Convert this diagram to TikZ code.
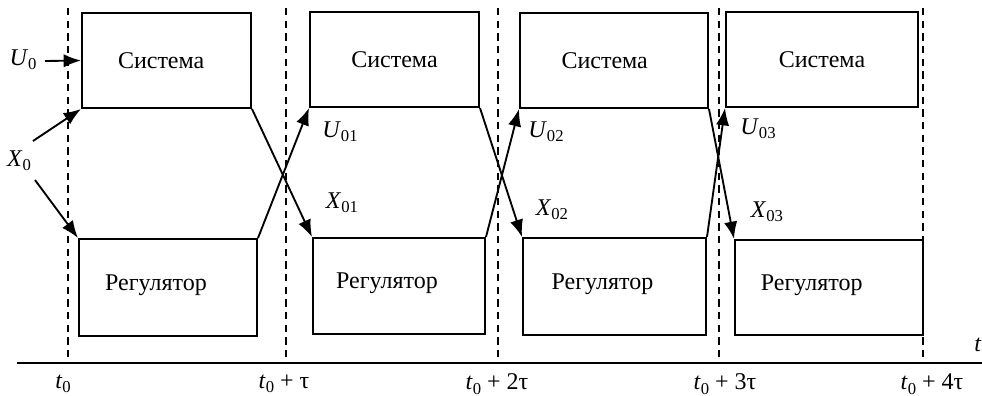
\documentclass[tikz,border=0pt]{standalone}
\usepackage{fontspec}
\setmainfont{Liberation Serif}
\usetikzlibrary{arrows.meta,fit}
\newcommand{\idx}[1]{\raisebox{-0.4ex}{\fontsize{12.5}{14}\selectfont #1}}
\tikzset{
  blockbox/.style={draw, line width=1.5pt, inner sep=0pt},
  flow/.style={line width=1.4pt, -{Latex[length=13pt,width=10pt]}},
  tline/.style={line width=1.4pt, dash pattern=on 5.5pt off 4pt},
}
\begin{document}
\begin{tikzpicture}[x=0.75pt,y=-0.75pt,font=\fontsize{18}{20}\selectfont]
\useasboundingbox (0,0) rectangle (982,396);
% time axis and moments
\coordinate (ax0) at (17,363);
\coordinate (ax1) at (982,363);
\draw[line width=1.5pt] (ax0) -- (ax1);
\node (tt) at (978,345) {\textit{t}};
\foreach \x/\n in {68/0,286/1,498/2,719/3,923/4}{
  \coordinate (top\n) at (\x,8);
  \coordinate (bot\n) at (\x,362);
  \draw[tline] (top\n) -- (bot\n);
}
\node (tl0) at (63,384) {\textit{t}\idx{0}};
\node (tl1) at (284,384) {\textit{t}\idx{0} + τ};
\node (tl2) at (497,384) {\textit{t}\idx{0} + 2τ};
\node (tl3) at (725,384) {\textit{t}\idx{0} + 3τ};
\node (tl4) at (932,384) {\textit{t}\idx{0} + 4τ};
% blocks
\node[blockbox, fit={(82,13) (251,108)}, label={[xshift=-4pt]center:Система}] (s1) {};
\node[blockbox, fit={(310,12) (479,107)}, label={center:Система}] (s2) {};
\node[blockbox, fit={(520,13) (708,108)}, label={[xshift=-7pt]center:Система}] (s3) {};
\node[blockbox, fit={(726,12) (918,107)}, label={center:Система}] (s4) {};
\node[blockbox, fit={(79,239) (257,336)}, label={[xshift=-9pt,yshift=2pt]center:Регулятор}] (r1) {};
\node[blockbox, fit={(313,238) (485,334)}, label={[xshift=-9pt,yshift=2pt]center:Регулятор}] (r2) {};
\node[blockbox, fit={(523,238) (706,335)}, label={[xshift=-9pt,yshift=2pt]center:Регулятор}] (r3) {};
\node[blockbox, fit={(735,240) (923,335)}, label={[xshift=-13pt,yshift=2pt]center:Регулятор}] (r4) {};
% inputs
\node (u0) at (23,60) {\textit{U}\idx{0}};
\node (x0) at (19,161) {\textit{X}\idx{0}};
\coordinate (u0e) at (45,61);
\coordinate (x0a) at (33,141);
\coordinate (x0b) at (35,180);
\draw[flow] (u0e) -- (s1.west);
\draw[flow] (x0a) -- (s1.south west);
\draw[flow] (x0b) -- (r1.north west);
% exchange between steps
\draw[flow] (s1.south east) -- (r2.north west);
\draw[flow] (r1.north east) -- (s2.south west);
\draw[flow] (s2.south east) -- (r3.north west);
\draw[flow] (r2.north east) -- (s3.south west);
\draw[flow] (s3.south east) -- (r4.north west);
\draw[flow] (r3.north east) -- (s4.south west);
\node (u01) at (340,132) {\textit{U}\idx{01}};
\node (x01) at (342,203) {\textit{X}\idx{01}};
\node (u02) at (546,132) {\textit{U}\idx{02}};
\node (x02) at (552,210) {\textit{X}\idx{02}};
\node (u03) at (758,129) {\textit{U}\idx{03}};
\node (x03) at (767,212) {\textit{X}\idx{03}};
\end{tikzpicture}
\end{document}
